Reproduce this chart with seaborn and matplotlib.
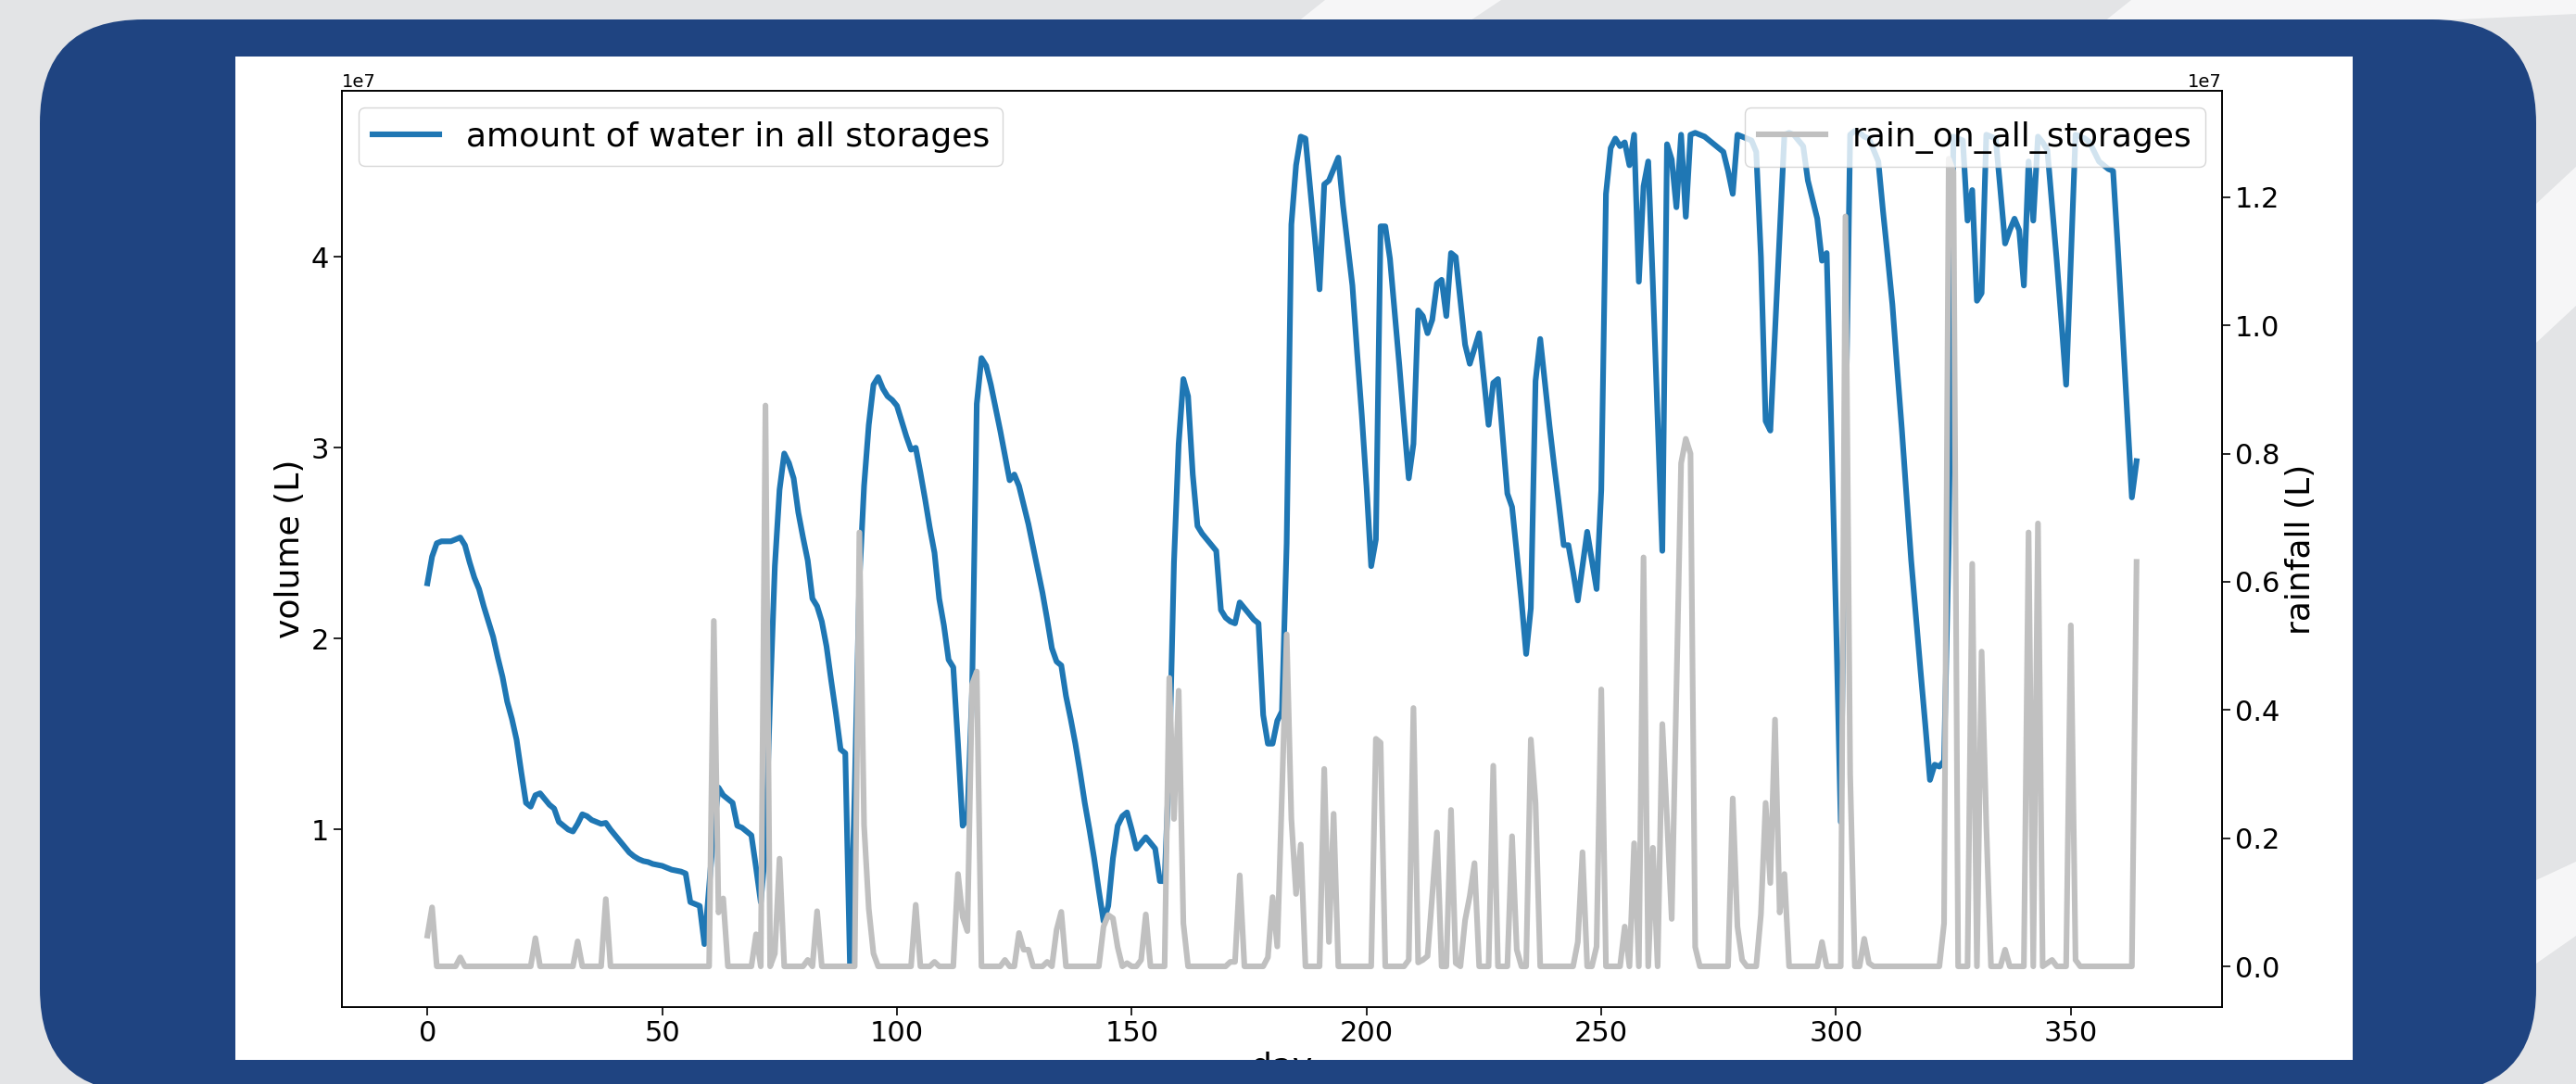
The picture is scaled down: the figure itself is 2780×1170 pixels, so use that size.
import numpy as np
import matplotlib
matplotlib.use("Agg")
import matplotlib.pyplot as plt
import seaborn as sns
from matplotlib.patches import FancyBboxPatch, Rectangle, Polygon
from matplotlib.transforms import Bbox, TransformedBbox

# daily values (units of 1e7 L)
days = np.arange(365)

volume = [
    2.29, 2.43, 2.50, 2.51, 2.51, 2.51, 2.52, 2.53, 2.49, 2.40,
    2.32, 2.26, 2.17, 2.09, 2.01, 1.90, 1.80, 1.67, 1.58, 1.47,
    1.30, 1.14, 1.12, 1.18, 1.19, 1.16, 1.13, 1.11, 1.04, 1.02,
    1.00, 0.99, 1.03, 1.08, 1.07, 1.05, 1.04, 1.03, 1.035, 1.00,
    0.97, 0.94, 0.91, 0.88, 0.86, 0.845, 0.835, 0.83, 0.82, 0.815,
    0.81, 0.80, 0.79, 0.785, 0.78, 0.77, 0.62, 0.61, 0.60, 0.40,
    0.70, 1.00, 1.22, 1.18, 1.16, 1.14, 1.02, 1.01, 0.99, 0.97,
    0.80, 0.62, 0.90, 1.70, 2.38, 2.78, 2.97, 2.92, 2.84, 2.66,
    2.53, 2.41, 2.21, 2.17, 2.09, 1.96, 1.78, 1.61, 1.42, 1.40,
    0.29, 1.20, 2.30, 2.80, 3.12, 3.33, 3.37, 3.31, 3.27, 3.25,
    3.22, 3.14, 3.06, 2.99, 3.00, 2.87, 2.73, 2.58, 2.45, 2.21,
    2.07, 1.89, 1.85, 1.45, 1.02, 1.06, 1.72, 3.23, 3.47, 3.43,
    3.33, 3.21, 3.09, 2.96, 2.83, 2.86, 2.80, 2.70, 2.60, 2.48,
    2.36, 2.24, 2.10, 1.95, 1.88, 1.86, 1.70, 1.58, 1.45, 1.30,
    1.14, 1.00, 0.85, 0.68, 0.52, 0.60, 0.85, 1.02, 1.07, 1.09,
    1.00, 0.90, 0.93, 0.96, 0.93, 0.90, 0.73, 0.73, 1.35, 2.40,
    3.02, 3.36, 3.27, 2.86, 2.59, 2.55, 2.52, 2.49, 2.46, 2.15,
    2.11, 2.09, 2.08, 2.19, 2.16, 2.13, 2.10, 2.08, 1.60, 1.45,
    1.45, 1.57, 1.62, 2.50, 4.17, 4.48, 4.63, 4.62, 4.36, 4.10,
    3.83, 4.38, 4.40, 4.46, 4.52, 4.27, 4.06, 3.85, 3.50, 3.17,
    2.80, 2.38, 2.52, 4.16, 4.16, 3.99, 3.71, 3.43, 3.13, 2.84,
    3.02, 3.72, 3.69, 3.60, 3.67, 3.86, 3.88, 3.69, 4.02, 4.00,
    3.77, 3.54, 3.44, 3.52, 3.60, 3.36, 3.12, 3.34, 3.36, 3.06,
    2.76, 2.69, 2.45, 2.20, 1.92, 2.16, 3.35, 3.57, 3.34, 3.11,
    2.90, 2.70, 2.49, 2.49, 2.35, 2.20, 2.38, 2.56, 2.41, 2.26,
    2.78, 4.33, 4.57, 4.62, 4.58, 4.60, 4.48, 4.64, 3.87, 4.37,
    4.50, 3.85, 3.15, 2.46, 4.59, 4.51, 4.26, 4.64, 4.21, 4.64,
    4.65, 4.64, 4.63, 4.61, 4.59, 4.57, 4.55, 4.45, 4.33, 4.64,
    4.63, 4.62, 4.61, 4.55, 4.00, 3.14, 3.09, 3.61, 4.12, 4.64,
    4.65, 4.64, 4.61, 4.58, 4.40, 4.30, 4.20, 3.98, 4.02, 3.10,
    2.10, 1.04, 3.00, 4.64, 4.66, 4.65, 4.63, 4.62, 4.56, 4.50,
    4.24, 4.00, 3.75, 3.42, 3.10, 2.75, 2.41, 2.12, 1.83, 1.55,
    1.26, 1.34, 1.33, 1.36, 2.50, 4.63, 4.62, 4.61, 4.19, 4.35,
    3.77, 3.81, 4.64, 4.63, 4.62, 4.35, 4.07, 4.14, 4.20, 4.14,
    3.85, 4.50, 4.19, 4.63, 4.60, 4.56, 4.27, 3.98, 3.66, 3.33,
    3.98, 4.64, 4.63, 4.62, 4.60, 4.55, 4.50, 4.48, 4.46, 4.45,
    4.05, 3.62, 3.18, 2.74, 2.93,
]

# days with rain (all other days are 0), units of 1e7 L
rain_days = [
    0, 1, 7, 23, 32, 38, 61, 62, 63, 70, 72, 74, 75, 81, 83,
    92, 93, 94, 95, 104, 108, 113, 114, 115, 116, 117, 123, 126, 127, 128,
    132, 134, 135, 144, 145, 146, 147, 149, 152, 153, 158, 159, 160, 161,
    171, 172, 173, 179, 180, 181, 182, 183, 184, 185, 186, 191, 192, 193,
    202, 203, 209, 210, 211, 212, 213, 214, 215, 218, 219, 221, 222, 223,
    227, 231, 232, 235, 236, 245, 246, 249, 250, 255, 257, 259, 261, 263,
    264, 265, 266, 267, 268, 269, 270, 278, 279, 280, 284, 285, 286, 287,
    288, 289, 297, 302, 303, 306, 307, 323, 324, 325, 329, 331, 332, 336,
    341, 343, 345, 346, 350, 351, 364,
]
rain_vals = [
    0.048, 0.092, 0.014, 0.044, 0.039, 0.105, 0.539, 0.084, 0.106, 0.050,
    0.875, 0.020, 0.168, 0.010, 0.086,
    0.677, 0.22, 0.09, 0.02, 0.096, 0.007, 0.144, 0.077, 0.055, 0.44,
    0.46, 0.010, 0.052, 0.026, 0.026,
    0.007, 0.057, 0.085, 0.062, 0.080, 0.075, 0.030, 0.005, 0.010, 0.081,
    0.45, 0.23, 0.43, 0.067,
    0.007, 0.007, 0.142, 0.014, 0.108, 0.031, 0.27, 0.518, 0.23, 0.113,
    0.19, 0.308, 0.038, 0.238,
    0.355, 0.349, 0.010, 0.403, 0.006, 0.010, 0.016, 0.11, 0.209, 0.244,
    0.005, 0.072, 0.11, 0.161,
    0.313, 0.203, 0.026, 0.354, 0.255, 0.038, 0.178, 0.031, 0.432, 0.062,
    0.192, 0.638, 0.185, 0.378,
    0.23, 0.074, 0.43, 0.785, 0.823, 0.80, 0.03, 0.262, 0.062, 0.01,
    0.081, 0.255, 0.13, 0.385,
    0.084, 0.144, 0.038, 1.17, 0.3, 0.043, 0.005, 0.067, 1.26, 1.24,
    0.628, 0.491, 0.22, 0.026,
    0.677, 0.691, 0.005, 0.01, 0.532, 0.01, 0.631,
]

volume = np.array(volume) * 1e7
rain = np.zeros(len(days))
rain[rain_days] = np.array(rain_vals) * 1e7

W, H = 2780, 1170
fig = plt.figure(figsize=(W / 100, H / 100), dpi=100)

# slide-like background: grey page, dark blue rounded card, white picture
bg = fig.add_axes([0, 0, 1, 1])
bg.set_xlim(0, W)
bg.set_ylim(H, 0)
bg.axis("off")
bg.add_patch(Rectangle((0, 0), W, H, color="#e3e4e6", zorder=0))
for pts in [[(1430, 0), (1620, 0), (1560, 40), (1380, 40)],
            [(2300, 0), (2780, 0), (2780, 15), (2250, 40)],
            [(2737, 220), (2780, 180), (2780, 330), (2737, 370)],
            [(2737, 950), (2780, 930), (2780, 1010), (2737, 1040)]]:
    bg.add_patch(Polygon(pts, closed=True, color="white", alpha=0.7, lw=0, zorder=1))
bg.add_patch(FancyBboxPatch((43, 21), 2737 - 43, 1179 - 21,
                            boxstyle="round,pad=0,rounding_size=112",
                            facecolor="#1f4481", edgecolor="none", zorder=2))
bg.add_patch(Rectangle((254, 61), 2539 - 254, 1144 - 61,
                       facecolor="white", edgecolor="none", zorder=3))

# main chart
ax1 = fig.add_axes([369 / W, (H - 1087) / H, (2398 - 369) / W, (1087 - 98) / H])
sns.lineplot(x=days, y=volume, ax=ax1, color="#1f77b4", linewidth=4.4,
             label="amount of water in all storages")
ax1.set_xlim(-18.2, 382.2)
ax1.set_ylim(0.07e7, 4.87e7)

ax2 = ax1.twinx()
sns.lineplot(x=days, y=rain, ax=ax2, color="silver", linewidth=4.4,
             label="rain_on_all_storages")
ax2.set_ylim(-0.0636e7, 1.366e7)

ax1.set_xlabel("day", fontsize=26)
ax1.set_ylabel("volume (L)", fontsize=26)
ax2.set_ylabel("rainfall (L)", fontsize=26)

for ax in (ax1, ax2):
    ax.tick_params(labelsize=22, length=6.5, width=1.2)
    ax.yaxis.get_offset_text().set_fontsize(14)
    for sp in ax.spines.values():
        sp.set_linewidth(1.2)

ax1.legend(loc="upper left", fontsize=26)
ax2.legend(loc="upper right", fontsize=26)

# the picture is cropped at the bottom, so the x label is cut off
clip = TransformedBbox(Bbox([[254 / W, (H - 1144) / H], [2539 / W, (H - 61) / H]]),
                       fig.transFigure)
ax1.xaxis.label.set_clip_box(clip)
ax1.xaxis.label.set_clip_on(True)

fig.savefig("out.png", dpi=100)
